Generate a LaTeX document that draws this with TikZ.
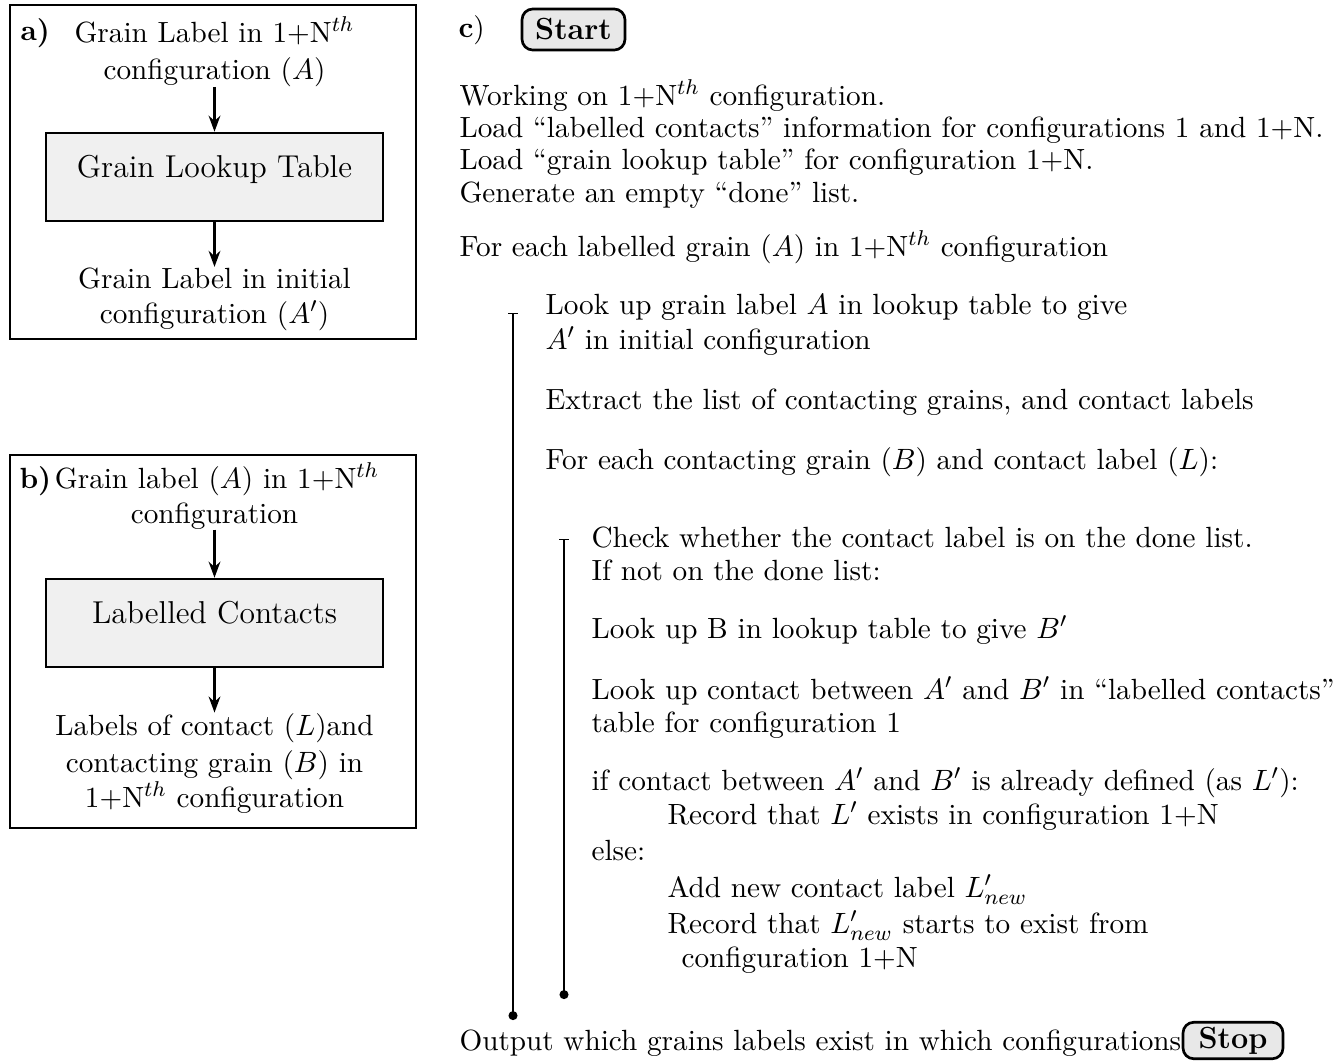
\documentclass[tikz,border=0pt]{standalone}
\usetikzlibrary{arrows.meta}
\begin{document}
\begin{tikzpicture}[x=0.373pt,y=-0.373pt,
  txt/.style={anchor=base west,inner sep=0pt,font=\fontsize{10.9}{13}\selectfont},
  ctxt/.style={anchor=base,inner sep=0pt,font=\fontsize{10.9}{13}\selectfont},
  panelbox/.style={draw,line width=0.9pt,inner sep=0pt},
  tablebox/.style={draw,line width=1pt,fill=gray!12,inner sep=0pt,minimum width=125.7pt,minimum height=32.8pt},
  termbox/.style={draw,line width=1pt,fill=gray!18,rounded corners=4pt,inner sep=0pt,font=\fontsize{11.4}{13}\selectfont\bfseries},
  arr/.style={line width=0.8pt,-{Stealth[length=6pt,width=4.4pt,inset=2pt]}},
  loopline/.style={line width=1.1pt,{Bar[width=3.7pt,line width=0.5pt]}-{Circle[length=3.3pt]}}
]
\useasboundingbox (0,0) rectangle (1333,1061);

% ---------- panel a ----------
\node[panelbox,minimum width=151.4pt,minimum height=124.6pt] (pa) at (213,172) {};
\node[txt,font=\fontsize{10.9}{13}\selectfont\bfseries] (la) at (20,40) {a)};
\node[ctxt] (a1) at (214.5,42) {Grain Label in 1+N$^{th}$};
\node[ctxt] (a2) at (214.5,79) {configuration ($A$)};
\node[tablebox] (ta) at (214.5,177) {};
\node[ctxt,font=\fontsize{11.8}{14}\selectfont] (tal) at (214.5,177) {Grain Lookup Table};
\node[ctxt] (a3) at (214.5,288) {Grain Label in initial};
\node[ctxt] (a4) at (214.5,323) {configuration ($A'$)};
\draw[arr] (a2.south) -- (ta.north);
\draw[arr] (ta.south) -- (a3.north);

% ---------- panel b ----------
\node[panelbox,minimum width=151.4pt,minimum height=139.1pt] (pb) at (213,641.5) {};
\node[txt,font=\fontsize{10.9}{13}\selectfont\bfseries] (lb) at (19,488) {b)};
\node[ctxt] (b1) at (217,488) {Grain label ($A$) in 1+N$^{th}$};
\node[ctxt] (b2) at (214.5,523) {configuration};
\node[tablebox] (tb) at (214.5,623) {};
\node[ctxt,font=\fontsize{11.8}{14}\selectfont] (tbl) at (214.5,623) {Labelled Contacts};
\node[ctxt] (b3) at (214.5,735) {Labels of contact ($L$)and};
\node[ctxt] (b4) at (214.5,772) {contacting grain ($B$) in};
\node[ctxt] (b5) at (214.5,807) {1+N$^{th}$ configuration};
\draw[arr] (b2.south) -- (tb.north);
\draw[arr] (tb.south) -- (b3.north);

% ---------- panel c ----------
\node[txt] (lc) at (458,37) {\textbf{c})};
\node[termbox,minimum width=38.4pt,minimum height=15.3pt] (start) at (573.5,29.5) {Start};

\node[txt] (c1) at (459,105) {Working on 1+N$^{th}$ configuration.};
\node[txt] (c2) at (459,137) {Load ``labelled contacts'' information for configurations 1 and 1+N.};
\node[txt] (c3) at (459,169) {Load ``grain lookup table'' for configuration 1+N.};
\node[txt] (c4) at (459,202) {Generate an empty ``done'' list.};
\node[txt] (c5) at (459,256) {For each labelled grain ($A$) in 1+N$^{th}$ configuration};

\node[txt] (d1) at (545,314) {Look up grain label $A$ in lookup table to give};
\node[txt] (d2) at (545,349) {$A'$ in initial configuration};
\node[txt] (d3) at (545,409) {Extract the list of contacting grains, and contact labels};
\node[txt] (d4) at (545,469) {For each contacting grain ($B$) and contact label ($L$):};

\node[txt] (e1) at (591,547) {Check whether the contact label is on the done list.};
\node[txt] (e2) at (591,580) {If not on the done list:};
\node[txt] (e3) at (591,638) {Look up B in lookup table to give $B'$};
\node[txt] (e4) at (591,699) {Look up contact between $A'$ and $B'$ in ``labelled contacts''};
\node[txt] (e5) at (591,732) {table for configuration 1};
\node[txt] (e6) at (591,790) {if contact between $A'$ and $B'$ is already defined (as $L'$):};
\node[txt] (e7) at (667,824) {Record that $L'$ exists in configuration 1+N};
\node[txt] (e8) at (591,860) {else:};
\node[txt] (e9) at (667,897) {Add new contact label $L'_{new}$};
\node[txt] (e10) at (667,933) {Record that $L'_{new}$ starts to exist from};
\node[txt] (e11) at (681,967) {configuration 1+N};

\node[txt] (out) at (459,1050) {Output which grains labels exist in which configurations};
\node[termbox,minimum width=37.3pt,minimum height=13.6pt] (stop) at (1233,1040.5) {Stop};

\coordinate (l1t) at (513,313);
\coordinate (l1b) at (513,1020);
\coordinate (l2t) at (564,539);
\coordinate (l2b) at (564,999);
\draw[loopline] (l1t) -- (l1b);
\draw[loopline] (l2t) -- (l2b);
\end{tikzpicture}
\end{document}
